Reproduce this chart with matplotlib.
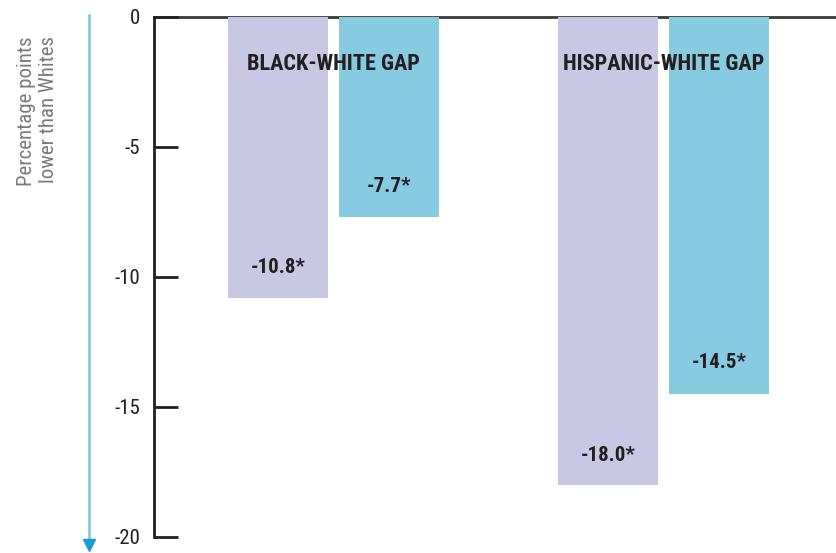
import matplotlib
matplotlib.use("Agg")
import matplotlib.pyplot as plt
import numpy as np

# --- data -------------------------------------------------------------------
groups      = ["BLACK-WHITE GAP", "HISPANIC-WHITE GAP"]
first_bar   = [-10.8, -18.0]   # lavender bars
second_bar  = [-7.7, -14.5]    # blue bars
bar_labels1 = ["-10.8*", "-18.0*"]
bar_labels2 = ["-7.7*", "-14.5*"]
yticks      = [0, -5, -10, -15, -20]

FONT = ["Roboto Condensed", "PT Sans Narrow", "DejaVu Sans"]
plt.rcParams["font.family"] = FONT

PURPLE = "#c8c8e4"
CYAN   = "#87cbe0"
INK    = "#231f20"

fig = plt.figure(figsize=(8.37, 5.53), dpi=100)
W, H = 837, 553
ax = fig.add_axes([154 / W, (H - 537) / H, (W - 154) / W, (537 - 17) / H])

centers = np.array([1.795, 5.10])
width   = 1.0
off     = 0.555

ax.bar(centers - off, first_bar, width=width, color=PURPLE, zorder=2)
ax.bar(centers + off, second_bar, width=width, color=CYAN, zorder=2)

for c, v, s in zip(centers - off, first_bar, bar_labels1):
    ax.text(c, v + 1.15, s, ha="center", va="center", fontsize=15,
            fontweight="bold", color=INK, zorder=3)
for c, v, s in zip(centers + off, second_bar, bar_labels2):
    ax.text(c, v + 1.2, s, ha="center", va="center", fontsize=15,
            fontweight="bold", color=INK, zorder=3)

for c, g in zip(centers, groups):
    ax.text(c, -1.8, g, ha="center", va="center", fontsize=16,
            fontweight="bold", color=INK, zorder=3)

ax.set_xlim(0, 6.83)
ax.set_ylim(-20, 0)
ax.set_xticks([])
ax.set_yticks(yticks)
ax.set_yticklabels([str(t) for t in yticks], fontsize=15, color=INK)
ax.tick_params(axis="y", direction="in", length=17, width=2, color=INK, pad=10)

for side in ["right", "bottom"]:
    ax.spines[side].set_visible(False)
ax.spines["left"].set_linewidth(2)
ax.spines["left"].set_color(INK)
ax.spines["top"].set_linewidth(2)
ax.spines["top"].set_color("#3a3a3a")
ax.spines["top"].set_zorder(1)

# y label and arrow, in figure space
fig.text(38 / W, 1 - 36 / H, "Percentage points\nlower than Whites",
         rotation=90, ha="center", va="top", ma="right", fontsize=15,
         color="#7a7a7a", linespacing=1.2)

fig.add_artist(plt.Line2D([89 / W, 89 / W], [1 - 15 / H, 1 - 542 / H],
                          color="#7cc6e6", lw=1.8, transform=fig.transFigure))
fig.add_artist(plt.Line2D([89 / W], [1 - 545 / H], marker="v", markersize=9,
                          color="#1a9ad6", transform=fig.transFigure))

fig.savefig("out.png", dpi=100)
